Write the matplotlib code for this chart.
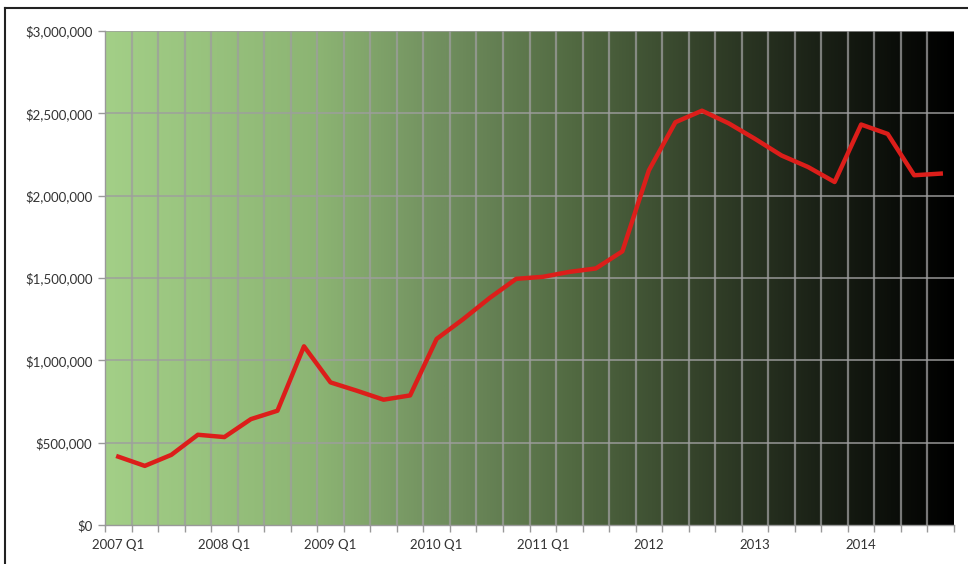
import numpy as np
import matplotlib
matplotlib.use("Agg")
import matplotlib.pyplot as plt
from matplotlib.colors import LinearSegmentedColormap
from matplotlib.lines import Line2D

# ---- data ----
quarters = [f"{y} Q{q}" for y in range(2007, 2015) for q in range(1, 5)]
values = [415000, 359000, 426000, 548000, 534000, 643000, 694000, 1085000,
          866000, 815000, 761000, 787000, 1130000, 1250000, 1379000, 1495000,
          1507000, 1537000, 1558000, 1662000, 2154000, 2446000, 2516000, 2440000,
          2345000, 2244000, 2174000, 2083000, 2432000, 2375000, 2124000, 2134000]
tick_labels = ["2007 Q1", "2008 Q1", "2009 Q1", "2010 Q1", "2011 Q1", "2012", "2013", "2014"]
y_ticks = [0, 500000, 1000000, 1500000, 2000000, 2500000, 3000000]

W, H = 968, 564
fig = plt.figure(figsize=(W / 100, H / 100), dpi=100)
fig.patch.set_facecolor("white")
ax = fig.add_axes([105 / W, 1 - 525 / H, (954 - 105) / W, (525 - 31) / H])

n = len(values)
x = np.arange(n)
xmin, xmax = -0.5, n - 0.5

# gradient background
stops = [(0.0, (163, 207, 135)), (0.25, (140, 180, 115)), (0.4, (112, 142, 94)),
         (0.55, (82, 106, 66)), (0.7, (52, 66, 42)), (0.85, (25, 31, 21)), (1.0, (0, 0, 0))]
cmap = LinearSegmentedColormap.from_list("g", [(p, tuple(c / 255 for c in col)) for p, col in stops])
grad = np.linspace(0, 1, 512).reshape(1, -1)
ax.imshow(grad, cmap=cmap, aspect="auto", extent=[xmin, xmax, 0, 3000000], zorder=0,
          interpolation="bilinear")

# gridlines
grid_col = (0.62, 0.62, 0.62)
for b in np.arange(xmin + 1, xmax, 1.0):
    ax.axvline(b, color=grid_col, lw=1.6, alpha=0.75, zorder=1)
for yv in y_ticks[1:]:
    ax.axhline(yv, color=grid_col, lw=1.3, alpha=0.8, zorder=1)

ax.plot(x, values, color="#dc1e1a", lw=3.2, zorder=3, solid_joinstyle="round")

ax.set_xlim(xmin, xmax)
ax.set_ylim(0, 3000000)

ax.set_yticks(y_ticks)
ax.set_yticklabels([f"${v:,.0f}" for v in y_ticks])
ax.set_xticks(np.arange(0, n, 4))
ax.set_xticklabels(tick_labels)
ax.set_xticks(np.arange(xmin, xmax + 0.01, 1.0), minor=True)
ax.tick_params(axis="x", which="major", length=0, pad=10)
ax.tick_params(axis="x", which="minor", length=5, color="#999999", width=1)
ax.tick_params(axis="y", length=5, color="#999999", width=1, pad=4)
for lab in ax.get_xticklabels() + ax.get_yticklabels():
    lab.set_fontfamily("Lato")
    lab.set_fontsize(9.5)
    lab.set_color("#333333")

for s in ["top", "right"]:
    ax.spines[s].set_visible(False)
for s in ["left", "bottom"]:
    ax.spines[s].set_color("#999999")
    ax.spines[s].set_linewidth(1)

# outer frame (top and left edges)
fig.add_artist(Line2D([5 / W, 1], [1 - 8 / H, 1 - 8 / H], color="#222222", lw=1.5, transform=fig.transFigure))
fig.add_artist(Line2D([5 / W, 5 / W], [0, 1 - 8 / H], color="#222222", lw=1.5, transform=fig.transFigure))

fig.savefig("out.png", dpi=100)
